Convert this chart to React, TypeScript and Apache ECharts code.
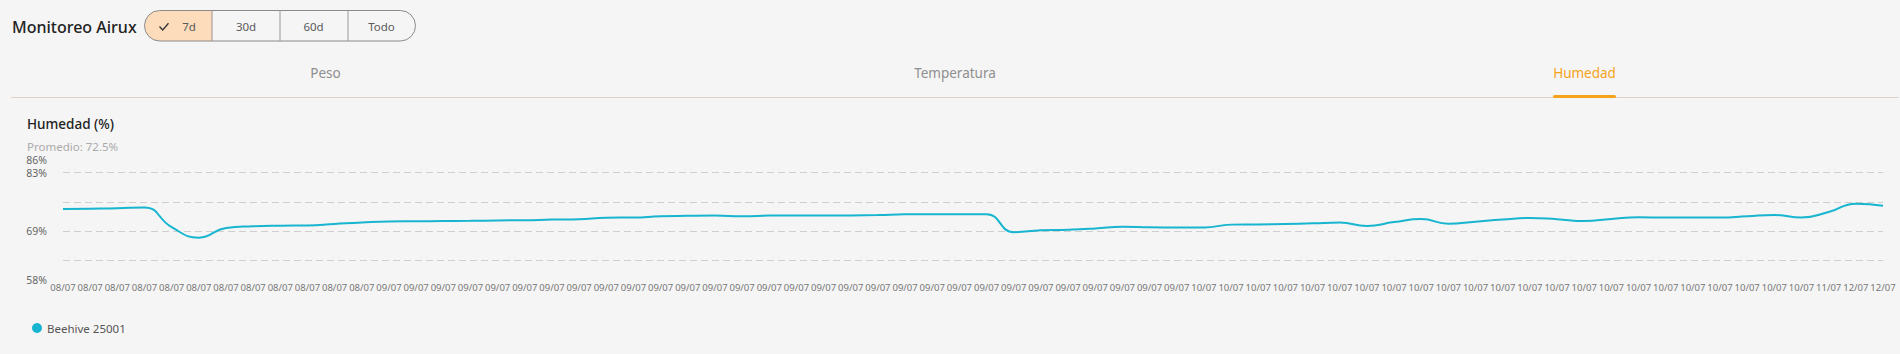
import React, { useEffect, useRef } from "react";
import * as echarts from "echarts";

const pageTitle = "Monitoreo Airux";
const rangeButtons = ["7d", "30d", "60d", "Todo"];
const tabs = ["Peso", "Temperatura", "Humedad"];
const chartTitle = "Humedad (%)";
const averageText = "Promedio: 72.5%";
const seriesName = "Beehive 25001";

const categories = [
  "08/07", "08/07", "08/07", "08/07", "08/07", "08/07", "08/07", "08/07", "08/07", "08/07", "08/07", "08/07",
  "09/07", "09/07", "09/07", "09/07", "09/07", "09/07", "09/07", "09/07", "09/07", "09/07",
  "09/07", "09/07", "09/07", "09/07", "09/07", "09/07", "09/07", "09/07", "09/07", "09/07",
  "09/07", "09/07", "09/07", "09/07", "09/07", "09/07", "09/07", "09/07", "09/07", "09/07",
  "10/07", "10/07", "10/07", "10/07", "10/07", "10/07", "10/07", "10/07", "10/07", "10/07",
  "10/07", "10/07", "10/07", "10/07", "10/07", "10/07", "10/07", "10/07", "10/07", "10/07",
  "10/07", "10/07", "10/07",
  "11/07",
  "12/07", "12/07",
];

const humidity = [
  74.3, 74.4, 74.5, 74.7, 70.0, 67.5, 69.8, 70.2, 70.35, 70.4, 70.75, 71.1,
  71.35, 71.4, 71.45, 71.5, 71.6, 71.65, 71.8, 71.9, 72.25, 72.3,
  72.6, 72.7, 72.75, 72.6, 72.75, 72.8, 72.75, 72.8, 72.9, 73.05,
  73.1, 73.1, 73.1, 68.8, 69.25, 69.4, 69.7, 70.1, 69.95, 69.9,
  69.9, 70.6, 70.65, 70.75, 70.9, 71.1, 70.3, 71.2, 71.95, 70.8,
  71.3, 71.8, 72.2, 71.9, 71.45, 71.95, 72.35, 72.3, 72.3, 72.3,
  72.6, 72.9, 72.3,
  73.6,
  75.6, 75.1,
];

const yMin = 58;
const yMax = 86;
const yLabelValues = [58, 69, 83, 86];
const yGridValues = [62, 69, 76, 83];

const FONT = "'Noto Sans', sans-serif";

export default function App() {
  const ref = useRef<HTMLDivElement>(null);

  useEffect(() => {
    if (!ref.current) return;
    const chart = echarts.init(ref.current, undefined, { renderer: "svg" });

    const btnX = 144.5;
    const btnY = 10.5;
    const btnW = 68;
    const btnH = 30.5;
    const btnCenters = [189, 246, 313.5, 381.5];
    const tabCenters = [325.5, 955, 1584.5];

    const graphics: any[] = [
      {
        type: "text",
        x: 12,
        y: 27,
        style: {
          text: pageTitle,
          fontSize: 16,
          fontWeight: 500,
          fill: "#222",
          fontFamily: FONT,
          verticalAlign: "middle",
        },
      },
      {
        type: "rect",
        shape: { x: btnX, y: btnY, width: btnW, height: btnH, r: [15, 0, 0, 15] },
        style: { fill: "#fddcbc" },
      },
      {
        type: "rect",
        shape: { x: btnX, y: btnY, width: btnW * 4 - 1, height: btnH, r: 15.25 },
        style: { fill: "none", stroke: "#8a8a8a", lineWidth: 1 },
      },
      ...[1, 2, 3].map((i) => ({
        type: "line",
        shape: { x1: btnX + btnW * i - 0.5, y1: btnY, x2: btnX + btnW * i - 0.5, y2: btnY + btnH },
        style: { stroke: "#9a9a9a", lineWidth: 1 },
      })),
      {
        type: "polyline",
        shape: { points: [[159.5, 26.5], [162.7, 30], [168.5, 23.3]] },
        style: { stroke: "#333", lineWidth: 1.3, fill: "none" },
      },
      ...rangeButtons.map((t, i) => ({
        type: "text",
        x: btnCenters[i],
        y: 26,
        style: {
          text: t,
          fontSize: 11.5,
          fill: "#5a5a5a",
          fontFamily: FONT,
          align: "center",
          verticalAlign: "middle",
        },
      })),
      ...tabs.map((t, i) => ({
        type: "text",
        x: tabCenters[i],
        y: 73,
        style: {
          text: t,
          fontSize: 13.5,
          fill: i === 2 ? "#f5a31a" : "#8f8f8f",
          fontFamily: FONT,
          align: "center",
          verticalAlign: "middle",
        },
      })),
      {
        type: "line",
        shape: { x1: 11, y1: 97.5, x2: 1899, y2: 97.5 },
        style: { stroke: "#e0d2c4", lineWidth: 1 },
      },
      {
        type: "rect",
        shape: { x: 1553, y: 95, width: 63, height: 3, r: 1.5 },
        style: { fill: "#f5a31a" },
      },
      {
        type: "text",
        x: 27,
        y: 124,
        style: {
          text: chartTitle,
          fontSize: 13.5,
          fontWeight: 500,
          fill: "#222",
          fontFamily: FONT,
          verticalAlign: "middle",
        },
      },
      {
        type: "text",
        x: 27,
        y: 146.5,
        style: {
          text: averageText,
          fontSize: 11.5,
          fill: "#aaa",
          fontFamily: FONT,
          verticalAlign: "middle",
        },
      },
    ];

    chart.setOption({
      animation: false,
      backgroundColor: "#f5f5f5",
      textStyle: { fontFamily: FONT },
      graphic: graphics,
      grid: { left: 63, right: 17, top: 160, bottom: 76.5, containLabel: false },
      legend: {
        left: 27,
        top: 317,
        icon: "circle",
        itemWidth: 10,
        itemHeight: 10,
        textStyle: { fontSize: 11.5, color: "#555", fontFamily: FONT },
        data: [seriesName],
      },
      xAxis: {
        type: "category",
        data: categories,
        boundaryGap: false,
        axisLine: { show: false },
        axisTick: { show: false },
        axisLabel: {
          interval: 0,
          fontSize: 9.5,
          color: "#777",
          margin: 5,
          fontFamily: FONT,
          hideOverlap: false,
        },
      },
      yAxis: {
        type: "value",
        min: yMin,
        max: yMax,
        axisLine: { show: false },
        axisTick: { show: false, customValues: yGridValues },
        axisLabel: {
          customValues: yLabelValues,
          formatter: (v: number) => (v === yMin ? `{s|${v}%}` : `${v}%`),
          rich: {
            s: { padding: [5, 0, 0, 0], fontSize: 10.5, color: "#666", fontFamily: FONT },
          },
          fontSize: 10.5,
          color: "#666",
          margin: 16,
          fontFamily: FONT,
          hideOverlap: false,
        },
        splitLine: {
          show: true,
          lineStyle: { color: "#cfcfcf", type: [7, 4], width: 1 },
        },
      },
      series: [
        {
          name: seriesName,
          type: "line",
          data: humidity,
          smooth: true,
          showSymbol: false,
          symbol: "circle",
          itemStyle: { color: "#17b5cf" },
          lineStyle: { color: "#17b5cf", width: 2 },
        },
      ],
    });

    return () => chart.dispose();
  }, []);

  return (
    <div
      ref={ref}
      style={{ position: "fixed", left: 0, top: 0, width: 1900, height: 354 }}
    />
  );
}
